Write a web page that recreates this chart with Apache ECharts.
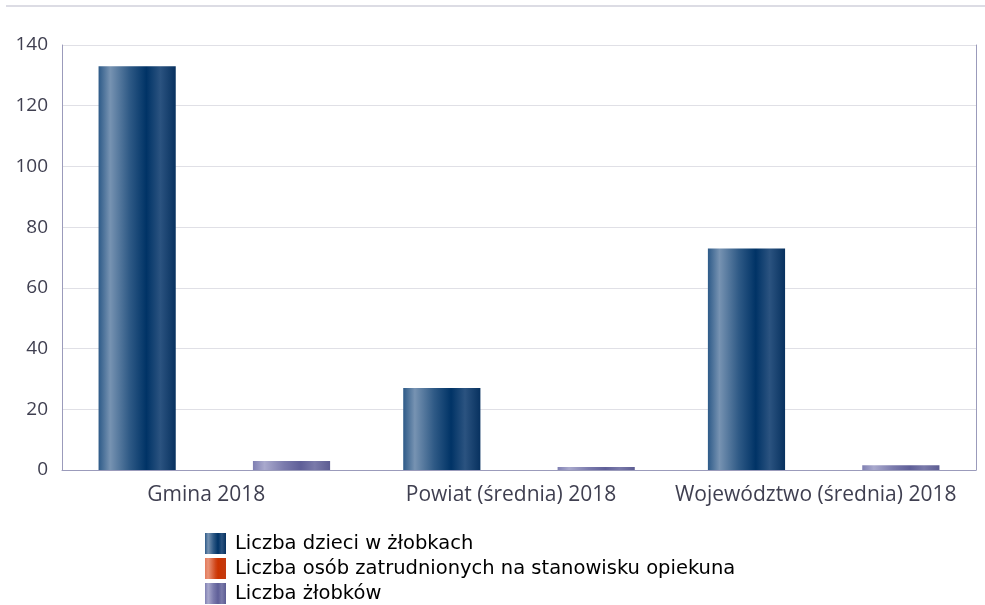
<!DOCTYPE html>
<html>
<head>
    <meta charset="utf-8">
    <title>Żłobki</title>
    <script src="https://cdn.jsdelivr.net/npm/echarts@6.0.0/dist/echarts.min.js"></script>
    <style>
        html, body { margin: 0; padding: 0; background: #fff; }
        #chart { width: 985px; height: 605px; }
    </style>
</head>
<body>
<div id="chart"></div>
<script>
    // dane
    const categories = ['Gmina 2018', 'Powiat (średnia) 2018', 'Województwo (średnia) 2018'];
    const seriesNames = [
        'Liczba dzieci w żłobkach',
        'Liczba osób zatrudnionych na stanowisku opiekuna',
        'Liczba żłobków'
    ];
    const dzieci = [133, 27, 73];
    const opiekunowie = [0, 0, 0];
    const zlobki = [3, 1, 1.6];
    const yTicks = [0, 20, 40, 60, 80, 100, 120, 140];

    // gradienty jak w oryginale (poziome, z jaśniejszym pasem po lewej)
    const grad = (stops) => new echarts.graphic.LinearGradient(0, 0, 1, 0,
        stops.map(([offset, color]) => ({ offset, color })));

    const blue = grad([[0, '#2d5a88'], [0.15, '#7793b2'], [0.4, '#2f5a86'], [0.62, '#003366'], [0.8, '#2b5380'], [1, '#07315f']]);
    const orange = grad([[0, '#e27a5c'], [0.15, '#ea9478'], [0.5, '#d0461a'], [0.62, '#cc3300'], [1, '#c23a10']]);
    const purple = grad([[0, '#7f7fb2'], [0.15, '#a9a9cd'], [0.4, '#7b7bad'], [0.62, '#5f5f98'], [0.8, '#7a7aaa'], [1, '#5c5c92']]);

    const chart = echarts.init(document.getElementById('chart'), null, { renderer: 'canvas' });

    const barSeries = (name, data, color) => ({
        name,
        type: 'bar',
        data,
        barGap: '0%',
        barCategoryGap: '24%',
        itemStyle: { color },
        emphasis: { disabled: true }
    });

    chart.setOption({
        animation: false,
        grid: { left: 62, right: 9, top: 45, bottom: 135, containLabel: false },
        graphic: [{
            type: 'line',
            shape: { x1: 6, y1: 6, x2: 985, y2: 6 },
            style: { stroke: '#dcdce4', lineWidth: 2 }
        }],
        legend: {
            orient: 'vertical',
            left: 205,
            top: 533,
            padding: 0,
            itemWidth: 21,
            itemHeight: 21,
            itemGap: 4,
            icon: 'rect',
            data: seriesNames,
            textStyle: { fontFamily: 'DejaVu Sans', fontSize: 19.5, lineHeight: 21, color: '#000', padding: [0, 0, 0, 4] }
        },
        xAxis: {
            type: 'category',
            data: categories,
            axisLine: { lineStyle: { color: '#9b9bbb', width: 1 } },
            axisTick: { show: false },
            axisLabel: {
                interval: 0,
                color: '#3f3f50',
                fontFamily: 'Open Sans',
                fontSize: 21,
                margin: 15,
                padding: [0, 16, 0, 0]
            }
        },
        yAxis: [{
            type: 'value',
            min: yTicks[0],
            max: yTicks[yTicks.length - 1],
            interval: 20,
            axisLine: { show: true, lineStyle: { color: '#9b9bbb' } },
            axisTick: { show: false },
            splitLine: { lineStyle: { color: '#e0e0e6' } },
            axisLabel: { color: '#3f3f50', fontFamily: 'Open Sans', fontSize: 19, margin: 14 }
        }, {
            type: 'value',
            position: 'right',
            min: yTicks[0],
            max: yTicks[yTicks.length - 1],
            axisLine: { show: true, lineStyle: { color: '#9b9bbb' } },
            axisTick: { show: false },
            axisLabel: { show: false },
            splitLine: { show: false }
        }],
        series: [
            barSeries(seriesNames[0], dzieci, blue),
            barSeries(seriesNames[1], opiekunowie, orange),
            barSeries(seriesNames[2], zlobki, purple)
        ]
    });
</script>
</body>
</html>
